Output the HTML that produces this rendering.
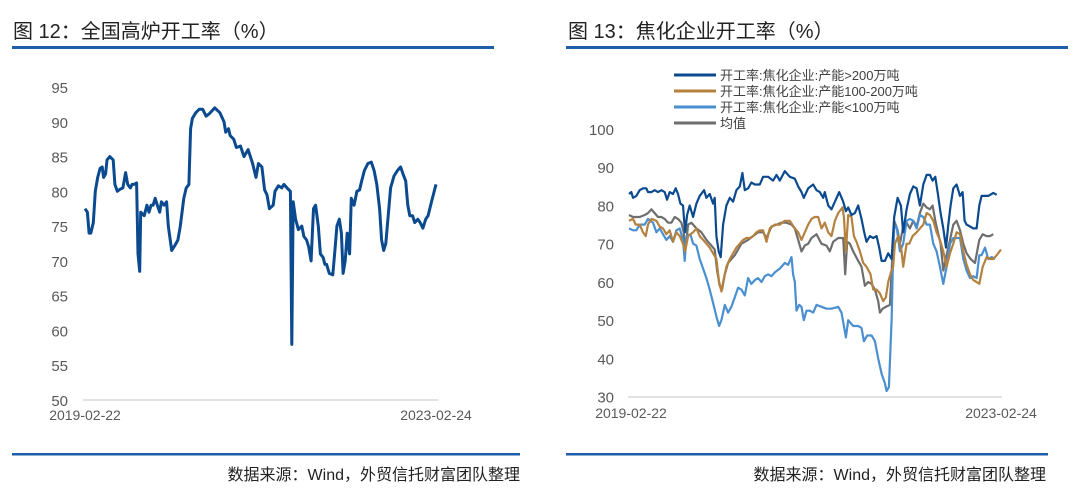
<!DOCTYPE html>
<html><head><meta charset="utf-8"><style>
body{margin:0;width:1080px;height:502px;background:#fff;overflow:hidden;font-family:"Liberation Sans","Noto Sans CJK SC",sans-serif;}
svg{position:absolute;left:0;top:0}
</style></head><body>
<svg id="s" width="1080" height="502" xmlns="http://www.w3.org/2000/svg">
<text x="13" y="38" font-size="20" fill="#222" font-family="Liberation Sans,Noto Sans CJK SC,sans-serif">图 12：全国高炉开工率（%）</text>
<rect x="12" y="46" width="482" height="3" fill="#1f5ea8"/>
<text x="568" y="38" font-size="20" fill="#222" font-family="Liberation Sans,Noto Sans CJK SC,sans-serif">图 13：焦化企业开工率（%）</text>
<rect x="566" y="46" width="502" height="3" fill="#1f5ea8"/>
<rect x="12" y="453" width="508" height="2.5" fill="#1f5ea8"/>
<rect x="566" y="453" width="482" height="2.5" fill="#1f5ea8"/>
<text x="520" y="480" font-size="16" fill="#222" text-anchor="end" font-family="Liberation Sans,Noto Sans CJK SC,sans-serif">数据来源：Wind，外贸信托财富团队整理</text>
<text x="1046" y="480" font-size="16" fill="#222" text-anchor="end" font-family="Liberation Sans,Noto Sans CJK SC,sans-serif">数据来源：Wind，外贸信托财富团队整理</text>
<g id="legend"></g>
</svg>
<script>
// ---- Left chart data (time index 0..1020 spans 2019-02-22 .. 2023-02-24)
const leftT=[0,7,12,17,24,30,37,44,50,54,60,64,72,82,87,94,102,110,118,124,132,137,142,150,154,159,162,172,180,186,192,198,204,210,217,222,230,237,242,252,262,270,277,287,294,302,307,312,322,332,342,352,362,377,392,404,409,417,422,432,440,452,462,474,487,497,504,514,522,529,536,547,552,562,572,578,587,597,601,605,612,620,630,636,644,650,657,664,670,678,684,692,697,702,710,720,727,732,739,745,750,756,762,769,774,782,790,798,804,812,822,832,840,848,856,862,868,874,882,888,898,908,917,924,932,938,944,952,958,967,974,982,990,997,1007,1020];
const leftV=[77.5,77,74,74,75.5,80,82,83.3,83.5,82,82.5,84.5,85,84.5,81,80,80.3,80.5,82.7,81,80.5,81,81,81.2,71,68.5,77,76.5,78,77,78,78,79,78,77,78.5,78,78.5,75,71.5,72.3,73,75,79,80.5,81,89,90.5,91.3,91.8,91.8,90.8,91.2,92,91.3,90,88.5,89,88,87.5,86.3,86.5,85,86,84,82,84,83.5,80.2,79.5,77.5,78,80,80.8,80.5,81,80.5,80,58,78.5,76,74.5,75,73.5,73,72,70,77.5,78,75,71,70.5,69.5,69.5,68.2,68,72,75,76,74,68.2,70,74,71,79,78,80,80.2,81.5,83,84,84.2,83,81,77.5,73,71.5,72.5,77,80.5,82.2,83,83.5,82.5,81.5,78,76.5,76.5,75.5,76,75.5,74.7,76,76.5,78.5,81];
const leftTicks=[50,55,60,65,70,75,80,85,90,95];
const leftDates=["2019-02-22","2023-02-24"];

// ---- Right chart data (time index 0..1115)
const seriesNames=["开工率:焦化企业:产能>200万吨","开工率:焦化企业:产能100-200万吨","开工率:焦化企业:产能<100万吨","均值"];
const bigT=[0,7,12,22,32,42,52,57,67,77,87,97,107,114,122,132,140,147,154,162,168,174,182,192,202,212,225,232,242,252,257,262,269,275,282,292,302,312,322,332,340,347,357,367,377,392,402,417,432,442,452,467,482,497,507,517,524,537,552,562,572,582,587,597,607,617,630,642,650,657,667,677,687,697,705,712,722,732,742,750,757,767,777,787,795,805,815,822,832,842,852,862,872,882,892,902,910,918,926,934,942,950,957,964,972,982,992,1000,1006,1012,1022,1032,1042,1050,1057,1067,1077,1092,1102,1115];
const bigV=[83,83.5,82,82.5,84,84.5,84.5,83.5,83.5,84,83.5,84,83.5,81.5,83.5,83,84.5,83,80.5,80,73,77.5,80,77,80.5,82.5,84,82,83,80.5,82,72,68,66.5,75,80,82,81,84,85,88.5,84,84.5,86,85.5,85.5,87.5,87.5,86.5,88,86.5,89,87.5,87,85,83.5,82,84.5,85.5,84,83.5,82,83.5,80,79,81,83.5,81,78.5,79.5,77.5,78,80,76.5,73,70.5,72,71.5,72,69,65.5,65.5,67.5,66,77,82,80,73,79,83,85,84.5,80,85.5,88,88,86.5,87.5,83,78,74,69,75,80,84.5,85.5,82.5,83.5,76,75,74.5,74,74,80,82.5,82.5,82.5,83.3,82.8];
const midT=[0,12,20,32,42,50,57,67,82,92,102,112,122,132,142,152,162,168,177,192,202,212,222,232,242,252,262,270,277,282,292,302,312,322,332,342,352,362,372,382,392,402,412,422,437,452,467,482,497,507,517,527,537,547,557,567,577,587,597,607,617,627,640,644,650,657,667,674,682,692,702,712,724,732,742,752,762,770,777,785,792,797,807,817,822,832,840,850,862,872,882,892,902,912,922,932,942,952,962,972,982,992,1002,1012,1022,1032,1042,1050,1060,1072,1082,1092,1102,1115];
const midV=[76,76.5,75,75,73,72,75,76.5,76,74.5,74,72.5,73.5,70.5,73,72,70,68,72,73,74,72,71,70,69,67.5,66,60,57.5,60,64,66,67.5,69,70,71,71.5,71.5,72,73,73.5,73.5,70.5,74,75,75,76,76,74,73,71,73,75,76.5,77,77,74,75.5,73,72,76,78,79.5,77,68,77.5,77,72,70.5,68,65,64,62,58,58,57,55,56,60,62.5,64,70,72,68,64,70,70,72,73,74,75,78,77.5,76,73,71,68,64,67.5,70,73,72.5,68,64.5,62,60.5,60,59.5,64,66.5,66,66,67,68.5];
const smallT=[0,12,22,32,47,57,72,82,92,102,112,122,132,142,152,162,167,172,184,192,202,212,222,232,242,252,262,270,277,287,297,307,317,327,337,347,357,367,377,387,397,407,417,427,437,452,467,477,487,492,497,502,510,517,524,532,542,552,562,577,592,607,627,637,647,650,657,672,687,697,704,714,727,737,747,757,767,772,779,787,792,795,802,812,822,832,842,852,862,872,882,892,902,912,922,932,942,952,962,972,982,992,1002,1012,1022,1032,1042,1050,1057,1067,1077,1087,1097,1115];
const smallV=[74,73.5,73.5,75,75,76.5,75.5,73,74,72.5,71,72,70.5,73.5,74,71,65.5,72,72.5,70,69.5,66,63.5,61,58,54.5,51,48.5,50,54,52,53.5,56,58.5,58,56.5,61,59.5,60.5,61,60,61.5,62,61.5,62.5,63.5,65,64.5,66.5,62,60,52.5,54,53.5,50,52.5,52.5,52,54,53.5,53,53,53.5,52,47,45.5,50,48.5,48.5,48,44.5,46,46,44.5,40,36,33.5,31.5,32.5,50,68,74,74.5,68,70,76,76.5,76,74,77.5,77,75,75,70,68,64,59.5,64,70,71.5,71.5,71.5,66,63,61,61.5,61,67,67,69,66,66.5,66];
const avgT=[0,12,22,32,47,57,67,77,87,97,107,117,127,137,147,157,164,168,177,187,202,217,232,247,257,264,272,279,287,297,307,317,327,337,347,357,372,387,402,412,427,442,457,472,487,497,507,517,527,537,547,562,577,592,602,612,627,642,648,654,662,672,684,697,707,717,727,737,747,752,760,770,782,790,795,805,812,822,832,842,852,862,872,882,892,902,910,918,926,934,942,952,962,972,982,992,1002,1012,1024,1037,1050,1060,1072,1082,1092,1115];
const avgV=[77.5,77,77,77,77.5,78,79,78,77,77,76.5,75.5,75.5,77,76.5,75.5,73,67.5,75,75.5,74,73,71,69.5,68.5,63,59,58,62,65,66,67,68.5,70,70.5,71,72,73,73,71.5,74.5,75,75.5,75.5,75,74,71,68,69.5,70,71.5,72.5,70,69.5,68,70.5,71.5,71.5,62,70.5,70,68,66,64,59,60,59.5,58,55,52,53,53.5,54,68,76,73.5,70,74.5,75.5,74,76,74.5,78,80.5,79.5,79,80,76,73,70,63,67,71,75,76,73.5,70,67.5,66,65,71,72.5,72,72,72.5];
const rightTicks=[30,40,50,60,70,80,90,100];
const rightDates=["2019-02-22","2023-02-24"];
const colors=["#0b4a8f","#b5813f","#4a8fd0","#6e6e6e"];

const NS="http://www.w3.org/2000/svg";
const svg=document.getElementById('s');
function mk(tag,attrs,parent){const e=document.createElementNS(NS,tag);for(const k in attrs)e.setAttribute(k,attrs[k]);(parent||svg).appendChild(e);return e;}

// Left axes
const lx=t=>85+t/1020*351;
const ly=v=>400-(v-50)/45*313;
mk('line',{x1:83,x2:438,y1:400,y2:400,stroke:'#d9d9d9','stroke-width':1.5});
leftTicks.forEach(v=>{const t=mk('text',{x:68,y:ly(v)+6,'font-size':15,fill:'#595959','text-anchor':'end'});t.textContent=v;

});
leftDates.forEach((d,i)=>{const t=mk('text',{x:i?436:85,y:420,'font-size':14,fill:'#595959','text-anchor':'middle'});t.textContent=d;

});
const lp=mk('path',{d:leftT.map((t,i)=>(i?'L':'M')+lx(t).toFixed(1)+','+ly(leftV[i]).toFixed(1)).join(''),fill:'none',stroke:'#0b4a8f','stroke-width':3,'stroke-linejoin':'round'});



// Right axes
const rx=t=>629+t/1115*372;
const ry=v=>396.7-(v-30)/70*267.7;
mk('line',{x1:628,x2:1002,y1:397,y2:397,stroke:'#d9d9d9','stroke-width':1.5});
rightTicks.forEach(v=>{const t=mk('text',{x:614,y:ry(v)+6,'font-size':15,fill:'#595959','text-anchor':'end'});t.textContent=v;

});
rightDates.forEach((d,i)=>{const t=mk('text',{x:i?1001:631,y:418,'font-size':14,fill:'#595959','text-anchor':'middle'});t.textContent=d;

});
const rs=[[bigT,bigV],[midT,midV],[smallT,smallV],[avgT,avgV]];
const order=[3,2,1,0];
order.forEach(k=>{const [T,V]=rs[k];
const p=mk('path',{d:T.map((t,i)=>(i?'L':'M')+rx(t).toFixed(1)+','+ry(V[i]).toFixed(1)).join(''),fill:'none',stroke:colors[k],'stroke-width':2.2,'stroke-linejoin':'round'});

});
// Legend
const lg=document.getElementById('legend');
seriesNames.forEach((n,i)=>{const y=75+i*16;
const l=mk('line',{x1:674,x2:716,y1:y,y2:y,stroke:colors[i],'stroke-width':3},lg);


const t=mk('text',{x:720,y:y+5,'font-size':13,fill:'#404040'},lg);t.textContent=n;

});
</script>
</body></html>
